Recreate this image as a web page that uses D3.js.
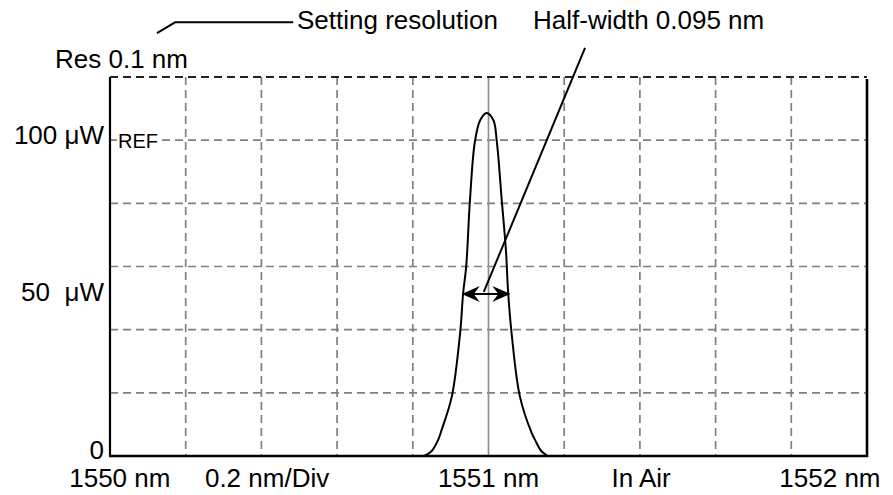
<!DOCTYPE html>
<html><head><meta charset="utf-8">
<script src="https://cdn.jsdelivr.net/npm/d3@7/dist/d3.min.js"></script>
<style>
body{margin:0;background:#fff}
text{font-family:"Liberation Sans",Arial,Helvetica,sans-serif;fill:#000;white-space:pre}
</style>
</head><body>
<svg id="c" width="893" height="495"></svg>
<script>
// ---- data ----
const spectrumNm = [1550.830,1550.850,1550.867,1550.876,1550.903,1550.925,1550.933,1550.941,1550.951,1550.964,1550.978,1550.995,1551.013,1551.022,1551.035,1551.046,1551.052,1551.061,1551.083,1551.114,1551.123,1551.140,1551.157];
const spectrumUW = [0,1.6,5.1,8.2,18.8,38.9,51.6,59.9,81.0,99.5,106.3,108.6,106.3,99.5,81.0,65.2,51.6,38.9,18.8,7.3,5.1,1.5,0];
const gridNm = [1550.2,1550.4,1550.6,1550.8,1551.2,1551.4,1551.6,1551.8];
const centerNm = 1551.0;
const gridUW = [20,40,60,80,100];
const refUW = 100;
const xDomain = [1550, 1552];
const yDomain = [0, 120];
const bottomLabels = ["1550 nm","0.2 nm/Div","1551 nm","In Air","1552 nm"];
const bottomLabelNm = [1550.026,1550.415,1551.0,1551.403,1551.902];
const leftLabels = ["100 \u03bcW","50  \u03bcW","0"];
const leftLabelUW = [100,50,0];
const halfWidthNm = [1550.932,1551.055];
const halfWidthUW = 51.3;
const halfWidthLeaderEnd = [1551.255,129.2]; // nm, uW (above plot)
const resLeader = [[1550.124,133.9],[1550.172,137.3],[1550.484,137.3]];

// ---- layout ----
const svg = d3.select("#c");
const L = 110, R = 867, T = 77, B = 456;
const x = d3.scaleLinear().domain(xDomain).range([L, R]);
const y = d3.scaleLinear().domain(yDomain).range([B, T]);

// grid
const g = svg.append("g");
g.selectAll(".vg").data(gridNm).join("line")
  .attr("x1", d => x(d)).attr("x2", d => x(d)).attr("y1", T).attr("y2", B)
  .attr("stroke", "#808080").attr("stroke-width", 1.7).attr("stroke-dasharray", "8,5");
g.selectAll(".hg").data(gridUW).join("line")
  .attr("x1", L).attr("x2", R).attr("y1", d => y(d)).attr("y2", d => y(d))
  .attr("stroke", "#808080").attr("stroke-width", 1.7).attr("stroke-dasharray", "8,5");
g.append("line").attr("x1", x(centerNm)).attr("x2", x(centerNm)).attr("y1", T).attr("y2", B)
  .attr("stroke", "#909090").attr("stroke-width", 1.7);
// top dashed border
g.append("line").attr("x1", L).attr("x2", R).attr("y1", y(yDomain[1])).attr("y2", y(yDomain[1]))
  .attr("stroke", "#222").attr("stroke-width", 1.9).attr("stroke-dasharray", "8,5");

// REF label with white backing
const refY = y(refUW);
g.append("rect").attr("x", L + 7).attr("y", refY - 10).attr("width", 45).attr("height", 20).attr("fill", "#fff");
svg.append("text").attr("x", L + 8).attr("y", refY).attr("dy", "0.38em")
  .attr("font-size", 20).text("REF");

// axes
svg.append("line").attr("x1", L).attr("x2", L).attr("y1", T).attr("y2", B + 1)
  .attr("stroke", "#000").attr("stroke-width", 2.2);
svg.append("line").attr("x1", R).attr("x2", R).attr("y1", T + 2).attr("y2", B + 1)
  .attr("stroke", "#000").attr("stroke-width", 2.6);
svg.append("line").attr("x1", L - 1).attr("x2", R + 1).attr("y1", B).attr("y2", B)
  .attr("stroke", "#000").attr("stroke-width", 2.6);

// spectrum
const line = d3.line().x((d, i) => x(spectrumNm[i])).y(d => y(d)).curve(d3.curveCatmullRom.alpha(0.5));
svg.append("path").attr("d", line(spectrumUW)).attr("fill", "none")
  .attr("stroke", "#000").attr("stroke-width", 2);

// half-width arrow
const defs = svg.append("defs");
defs.append("marker").attr("id", "ah").attr("viewBox", "-18 -9 20 18")
  .attr("refX", 0).attr("refY", 0).attr("markerWidth", 20).attr("markerHeight", 18)
  .attr("markerUnits", "userSpaceOnUse").attr("orient", "auto-start-reverse")
  .append("path").attr("d", "M1,0 L-17,-8 L-11,0 L-17,8 Z").attr("fill", "#000");
const ay = y(halfWidthUW);
svg.append("line").attr("x1", x(halfWidthNm[0])).attr("x2", x(halfWidthNm[1]))
  .attr("y1", ay).attr("y2", ay).attr("stroke", "#000").attr("stroke-width", 2)
  .attr("marker-start", "url(#ah)").attr("marker-end", "url(#ah)");
// half-width leader
const midNm = (halfWidthNm[0] + halfWidthNm[1]) / 2 - 0.006;
svg.append("line").attr("x1", x(midNm)).attr("y1", ay - 2)
  .attr("x2", x(halfWidthLeaderEnd[0])).attr("y2", y(halfWidthLeaderEnd[1]))
  .attr("stroke", "#000").attr("stroke-width", 2);
// setting resolution leader
svg.append("path").attr("d", d3.line().x(d => x(d[0])).y(d => y(d[1]))(resLeader))
  .attr("fill", "none").attr("stroke", "#000").attr("stroke-width", 2);

// texts
const FS = 26;
svg.append("text").attr("x", 55).attr("y", 68).attr("font-size", FS).text("Res 0.1 nm");
svg.append("text").attr("x", 297).attr("y", 29).attr("font-size", FS).text("Setting resolution");
svg.append("text").attr("x", 533).attr("y", 29).attr("font-size", FS).text("Half-width 0.095 nm");

svg.selectAll(".ll").data(leftLabels).join("text")
  .attr("x", 104).attr("y", (d, i) => y(leftLabelUW[i]) - 6).attr("dy", "0.36em")
  .attr("text-anchor", "end").attr("font-size", FS).text(d => d);

svg.selectAll(".bl").data(bottomLabels).join("text")
  .attr("x", (d, i) => x(bottomLabelNm[i])).attr("y", 487)
  .attr("text-anchor", "middle").attr("font-size", FS).text(d => d);
</script>
</body></html>
